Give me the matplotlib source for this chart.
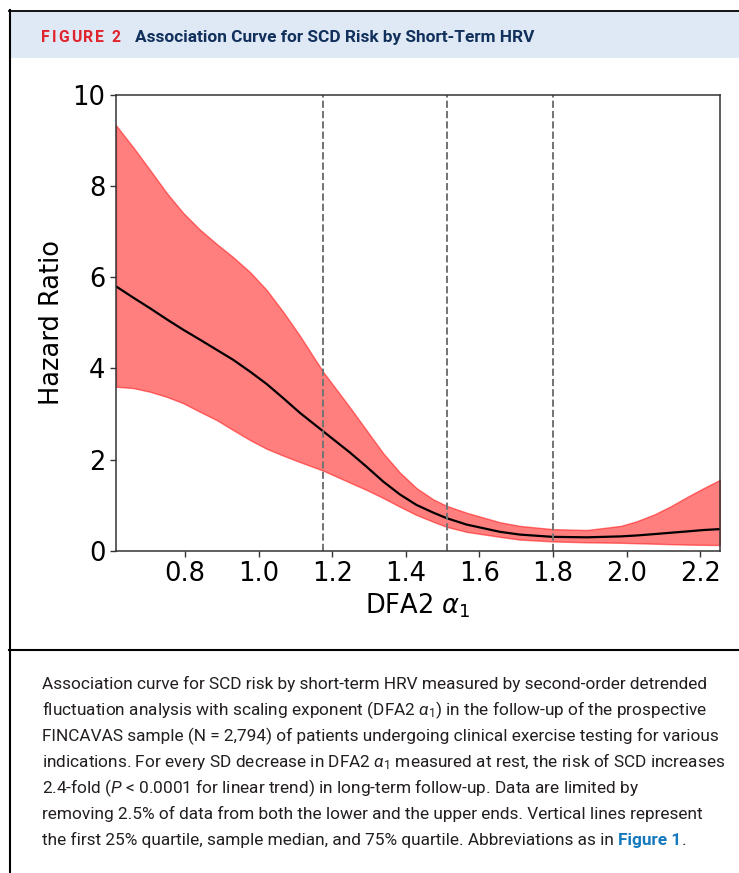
import matplotlib
matplotlib.use("Agg")
import matplotlib.pyplot as plt
from matplotlib.lines import Line2D
from matplotlib.patches import Rectangle
from matplotlib.text import Annotation

# Association curve (hazard ratio vs DFA2 alpha1)
dfa2 = [0.6125, 0.66, 0.705, 0.75, 0.795, 0.841, 0.886, 0.931, 0.977, 1.022,
        1.067, 1.112, 1.176, 1.248, 1.293, 1.339, 1.384, 1.429, 1.475, 1.511,
        1.565, 1.656, 1.71, 1.799, 1.892, 1.984, 2.027, 2.075, 2.12, 2.166,
        2.21, 2.254]
hr = [5.80, 5.55, 5.32, 5.08, 4.85, 4.63, 4.41, 4.19, 3.93, 3.66,
      3.35, 3.03, 2.62, 2.16, 1.85, 1.52, 1.24, 1.01, 0.84, 0.72,
      0.58, 0.42, 0.36, 0.31, 0.30, 0.32, 0.34, 0.37, 0.40, 0.43,
      0.46, 0.48]
hr_upper = [9.33, 8.84, 8.35, 7.85, 7.41, 7.04, 6.73, 6.44, 6.11, 5.72,
            5.24, 4.72, 3.92, 3.15, 2.65, 2.14, 1.72, 1.38, 1.13, 0.99,
            0.84, 0.63, 0.55, 0.48, 0.46, 0.55, 0.65, 0.80, 0.98, 1.19,
            1.38, 1.56]
hr_lower = [3.60, 3.57, 3.49, 3.38, 3.24, 3.05, 2.87, 2.65, 2.43, 2.24,
            2.09, 1.95, 1.76, 1.50, 1.34, 1.16, 0.97, 0.79, 0.64, 0.53,
            0.42, 0.31, 0.25, 0.21, 0.19, 0.18, 0.17, 0.16, 0.15, 0.14,
            0.135, 0.13]

# 25% quartile, median, 75% quartile
quartiles = [1.176, 1.511, 1.799]

x_ticks = [0.8, 1.0, 1.2, 1.4, 1.6, 1.8, 2.0, 2.2]
y_ticks = [0, 2, 4, 6, 8, 10]

caption_lines = [
    "Association curve for SCD risk by short-term HRV measured by second-order detrended",
    r"fluctuation analysis with scaling exponent (DFA2 $\alpha_1$) in the follow-up of the prospective",
    "FINCAVAS sample (N = 2,794) of patients undergoing clinical exercise testing for various",
    r"indications. For every SD decrease in DFA2 $\alpha_1$ measured at rest, the risk of SCD increases",
    r"2.4-fold ($P$ < 0.0001 for linear trend) in long-term follow-up. Data are limited by",
    "removing 2.5% of data from both the lower and the upper ends. Vertical lines represent",
    "the first 25% quartile, sample median, and 75% quartile. Abbreviations as in ",
]

W, H = 739, 873

def fx(px):
    return px / W

def fy(py):
    return 1 - py / H

CAP_FONT = ["Roboto", "DejaVu Sans"]
CAP_SIZE = 12.4
plt.rcParams["mathtext.rm"] = "Roboto"
plt.rcParams["mathtext.it"] = "Roboto:italic"
plt.rcParams["mathtext.bf"] = "Roboto:bold"

fig = plt.figure(figsize=(W / 100, H / 100), dpi=100)

# frame / header band / divider
fig.add_artist(Rectangle((fx(11), fy(57.5)), fx(739 - 11), 45.5 / H,
                         transform=fig.transFigure, facecolor="#dfe9f5", edgecolor="none"))
fig.add_artist(Line2D([fx(9.5), fx(9.5)], [fy(10), fy(873)], color="black", lw=1.5,
                      transform=fig.transFigure))
fig.add_artist(Line2D([fx(9), fx(739)], [fy(10.5), fy(10.5)], color="black", lw=1.3,
                      transform=fig.transFigure))
fig.add_artist(Line2D([fx(9), fx(739)], [fy(650), fy(650)], color="black", lw=1.5,
                      transform=fig.transFigure))

# header: letter-spaced "FIGURE 2", then the title
red_kw = dict(color="#e0242e", fontsize=11.3, fontweight="bold", family="Roboto")
prev = fig.text(fx(41), fy(42.3), "F", va="baseline", **red_kw)
for ch in "IGURE 2":
    prev = fig.add_artist(Annotation(ch, xy=(1, 0), xycoords=prev, xytext=(1.4, 0),
                                     textcoords="offset points", va="bottom", ha="left",
                                     annotation_clip=False, **red_kw))
fig.text(fx(135), fy(42.3), "Association Curve for SCD Risk by Short-Term HRV",
         color="#12305c", fontsize=12.4, fontweight="bold", family="Roboto", va="baseline")

# chart
ax = fig.add_axes([fx(116), fy(551), (720 - 116) / W, (551 - 94.7) / H])
ax.fill_between(dfa2, hr_lower, hr_upper, color="red", alpha=0.5, lw=1)
ax.plot(dfa2, hr, color="black", lw=1.6)
for q in quartiles:
    ax.axvline(q, color="0.45", ls="--", lw=1.4)

ax.set_xlim(0.6125, 2.254)
ax.set_ylim(0, 10)
ax.set_xticks(x_ticks)
ax.set_xticklabels([f"{v:.1f}" for v in x_ticks])
ax.set_yticks(y_ticks)
ax.tick_params(labelsize=18.5, width=1.0, length=4, color="#333333")
for s in ax.spines.values():
    s.set_color("#333333")
    s.set_linewidth(1.1)
ax.set_xlabel(r"DFA2 $\alpha_1$", fontsize=18.5, labelpad=3)
ax.set_ylabel("Hazard Ratio", fontsize=18.5)
ax.yaxis.set_label_coords(-0.085, 0.5)

# caption
cap_kw = dict(fontsize=CAP_SIZE, color="#231f20", family=CAP_FONT,
              math_fontfamily="custom", va="baseline")
y0 = 689
last = None
for i, line in enumerate(caption_lines):
    last = fig.text(fx(42), fy(y0 + 26 * i), line, **cap_kw)
fig_ref = fig.add_artist(Annotation("Figure 1", xy=(1, 0), xycoords=last, va="bottom",
                                    ha="left", fontsize=CAP_SIZE, color="#1479bd",
                                    fontweight="bold", family=CAP_FONT,
                                    annotation_clip=False))
fig.add_artist(Annotation(".", xy=(1, 0), xycoords=fig_ref, va="bottom", ha="left",
                          fontsize=CAP_SIZE, color="#231f20", family=CAP_FONT,
                          annotation_clip=False))

fig.savefig("out.png", dpi=100)
